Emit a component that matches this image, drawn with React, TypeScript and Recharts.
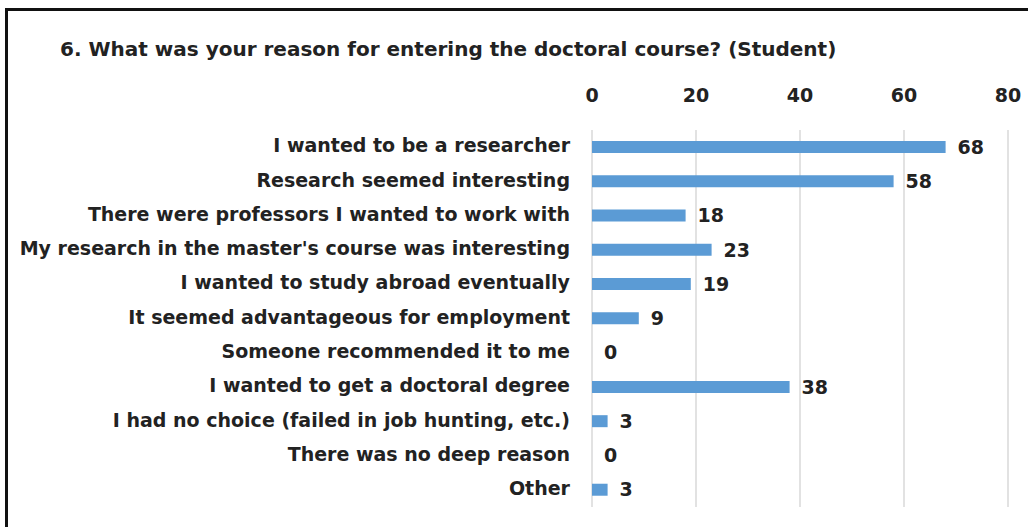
import { BarChart, Bar, XAxis, YAxis, CartesianGrid, LabelList } from "recharts"

const reasons = [
  "I wanted to be a researcher",
  "Research seemed interesting",
  "There were professors I wanted to work with",
  "My research in the master's course was interesting",
  "I wanted to study abroad eventually",
  "It seemed advantageous for employment",
  "Someone recommended it to me",
  "I wanted to get a doctoral degree",
  "I had no choice (failed in job hunting, etc.)",
  "There was no deep reason",
  "Other",
]

const counts = [68, 58, 18, 23, 19, 9, 0, 38, 3, 0, 3]

const xTicks = [0, 20, 40, 60, 80]

const data = reasons.map((reason, i) => ({ reason, count: counts[i] }))

const font = "'DejaVu Sans', Verdana, sans-serif"

export default function App() {
  return (
    <div style={{ position: "absolute", left: 0, top: 0, width: 1028, height: 527, background: "#fff", overflow: "hidden", fontFamily: font }}>
      <div
        style={{
          position: "absolute",
          left: 5,
          top: 8,
          width: 1100,
          height: 600,
          borderLeft: "3px solid #111",
          borderTop: "3px solid #111",
        }}
      />
      <div style={{ position: "absolute", left: 60, top: 37, fontSize: 20, fontWeight: "bold", color: "#222", whiteSpace: "nowrap" }}>
        6. What was your reason for entering the doctoral course? (Student)
      </div>
      <div style={{ position: "absolute", left: 0, top: 0 }}>
        <BarChart
          width={1028}
          height={527}
          data={data}
          layout="vertical"
          margin={{ top: 90, right: 20, bottom: 20, left: 0 }}
          barSize={12}
        >
          <CartesianGrid horizontal={false} stroke="#d9d9d9" strokeWidth={1.5} />
          <XAxis
            type="number"
            orientation="top"
            domain={[0, 80]}
            ticks={xTicks}
            height={40}
            axisLine={false}
            tickLine={false}
            tickSize={6}
            tickMargin={22}
            tick={{ fill: "#222", fontSize: 19, fontWeight: "bold", fontFamily: font }}
          />
          <YAxis
            type="category"
            dataKey="reason"
            width={592}
            axisLine={false}
            tickLine={false}
            tickSize={6}
            tickMargin={16}
            interval={0}
            tick={{ fill: "#222", fontSize: 19, fontWeight: "bold", fontFamily: font, dy: -1.5 }}
          />
          <Bar dataKey="count" fill="#5B9BD5" minPointSize={0.01} isAnimationActive={false}>
            <LabelList
              dataKey="count"
              position="right"
              offset={12}
              fill="#222"
              fontSize={19}
              fontWeight="bold"
              fontFamily={font}
            />
          </Bar>
        </BarChart>
      </div>
    </div>
  )
}
